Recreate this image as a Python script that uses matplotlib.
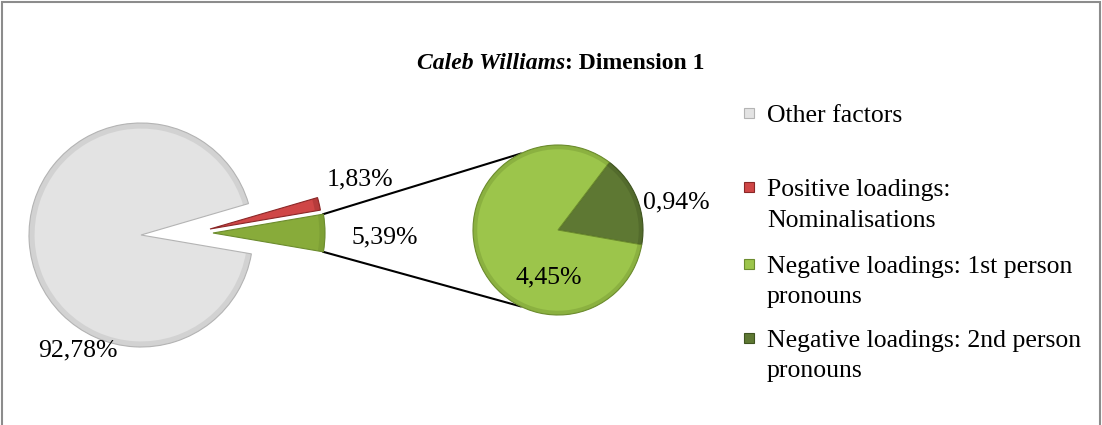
import matplotlib.pyplot as plt
from matplotlib.patches import Rectangle, Wedge
import numpy as np

# chart data
categories = [
    "Other factors",
    "Positive loadings:\nNominalisations",
    "Negative loadings: 1st person\npronouns",
    "Negative loadings: 2nd person\npronouns",
]
shares = [92.78, 1.83, 4.45, 0.94]
title_italic = "Caleb Williams"
title_rest = ": Dimension 1"

colors = ["#e3e3e3", "#cf4646", "#9cc54b", "#5e7833"]
edges = ["#b4b4b4", "#8a2727", "#6c8c2e", "#3f5420"]
main_green = "#88ab3a"

W, H = 1102, 425
FONT = "Liberation Serif"


def Y(py):
    # pixel row -> data y
    return H - py


def pct(v):
    return f"{v:.2f}%".replace(".", ",")


def bevel(ax, w, ec):
    # darker rim along the outer arc, a rough stand-in for Excel's bevel
    rim = Wedge(w.center, w.r, w.theta1, w.theta2, width=w.r * 0.05,
                facecolor=ec, edgecolor="none", alpha=0.35, zorder=w.get_zorder() + 0.1)
    ax.add_patch(rim)


def main():
    fig = plt.figure(figsize=(W / 100, H / 100), dpi=100)
    ax = fig.add_axes([0, 0, 1, 1])

    # first pie: other / positive / combined negative
    neg = shares[2] + shares[3]
    main_vals = [neg, shares[1], shares[0]]
    c_main = (141, Y(235))
    r_main = 112
    wedges, _ = ax.pie(main_vals, center=c_main, radius=r_main,
                       startangle=-neg / 100 * 360 / 2,
                       colors=[main_green, colors[1], colors[0]],
                       wedgeprops=dict(linewidth=0.8),
                       frame=True)
    # split-off slices pulled to the right
    wedges[0].set_center((213, Y(233)))
    wedges[1].set_center((210, Y(229)))
    for w, ec in zip(wedges, [edges[2], edges[1], edges[0]]):
        w.set_edgecolor(ec)
        bevel(ax, w, ec)

    # second pie: breakdown of negative loadings
    c_sec = (558, Y(230))
    r_sec = 85
    sec_vals = [shares[3], shares[2]]
    sw, _ = ax.pie(sec_vals, center=c_sec, radius=r_sec, startangle=-10,
                   colors=[colors[3], colors[2]],
                   wedgeprops=dict(linewidth=0.8), frame=True)
    for w, ec in zip(sw, [edges[3], edges[2]]):
        w.set_edgecolor(ec)
        bevel(ax, w, ec)

    # connector lines
    g = wedges[0]
    gx, gy = g.center
    for th, ang in [(g.theta2, 116), (g.theta1, -116)]:
        x0 = gx + g.r * np.cos(np.radians(th))
        y0 = gy + g.r * np.sin(np.radians(th))
        x1 = c_sec[0] + r_sec * np.cos(np.radians(ang))
        y1 = c_sec[1] + r_sec * np.sin(np.radians(ang))
        ax.plot([x0, x1], [y0, y1], color="black", lw=1.5, zorder=0)

    # data labels
    lab_kw = dict(fontsize=18.5, family=FONT, ha="center", va="baseline")
    ax.text(78, Y(356), pct(shares[0]), **lab_kw)
    ax.text(360, Y(185), pct(shares[1]), **lab_kw)
    ax.text(385, Y(243), pct(neg), **lab_kw)
    ax.text(676, Y(208), pct(shares[3]), **lab_kw)
    ax.text(549, Y(283), pct(shares[2]), **lab_kw)

    # title
    ax.text(565, Y(69), title_italic, fontsize=17, family=FONT,
            fontweight="bold", fontstyle="italic", ha="right", va="baseline")
    ax.text(565, Y(69), title_rest, fontsize=17, family=FONT,
            fontweight="bold", ha="left", va="baseline")

    # legend
    baselines = [122, 196, 273, 347]
    for lbl, base, col, ec in zip(categories, baselines, colors, edges):
        ax.add_patch(Rectangle((744, Y(base - 4)), 10, 10, facecolor=col,
                               edgecolor=ec, lw=0.8))
        for j, line in enumerate(lbl.split("\n")):
            ax.text(767, Y(base + 30.5 * j), line, fontsize=18.5,
                    family=FONT, ha="left", va="baseline")

    # chart border
    ax.add_patch(Rectangle((2, Y(440)), W - 4, 438, fill=False,
                           edgecolor="#8c8c8c", lw=1.5))

    ax.set_xlim(0, W)
    ax.set_ylim(0, H)
    ax.set_aspect("auto")
    ax.axis("off")
    fig.savefig("out.png", dpi=100)


if __name__ == "__main__":
    main()
